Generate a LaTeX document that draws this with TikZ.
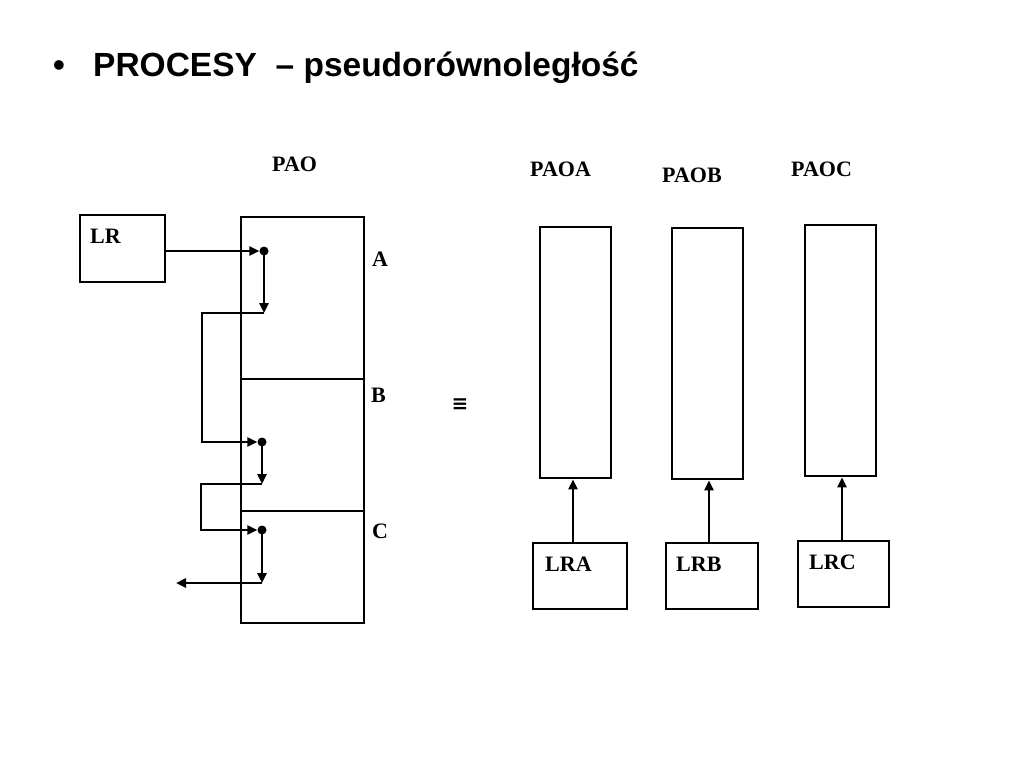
\documentclass[tikz,border=0pt]{standalone}
\usepackage{fontspec}
\setmainfont{Liberation Serif}
\newfontfamily\titlefont{Liberation Sans}
\newfontfamily\eqsymfont{DejaVu Sans}
\usetikzlibrary{arrows.meta}
\tikzset{
  box/.style={draw, line width=2.8pt, inner sep=0pt},
  lbl/.style={inner sep=0pt, anchor=base west, font=\fontsize{22}{26}\selectfont\bfseries},
  arr/.style={line width=2.8pt, -{Triangle[length=10pt,width=9pt]}},
  ln/.style={line width=2.8pt},
  dotn/.style={circle, fill=black, inner sep=0pt, minimum size=9pt}
}
\begin{document}
\begin{tikzpicture}[x=1pt,y=-1pt]
\useasboundingbox (0,0) rectangle (1024,768);
% title
\node[inner sep=0pt, anchor=base west, font=\titlefont\fontsize{33.5}{40}\selectfont\bfseries] (bul) at (53,77) {•};
\node[inner sep=0pt, anchor=base west, font=\titlefont\fontsize{33.5}{40}\selectfont\bfseries] (title) at (93,77) {PROCESY\ \ – pseudorównoległość};
% left part
\node[box, minimum width=85pt, minimum height=67pt] (lr) at (122.5,248.5) {};
\node[lbl] (lrt) at (90,243) {LR};
\node[box, minimum width=123pt, minimum height=406pt] (pao) at (302.5,420) {};
\draw[ln] (pao.west |- 0,379) coordinate (ab1) -- (pao.east |- 0,379) coordinate (ab2);
\draw[ln] (pao.west |- 0,511) coordinate (bc1) -- (pao.east |- 0,511) coordinate (bc2);
\node[lbl] (paot) at (272,171) {PAO};
\node[lbl] (at) at (372,266) {A};
\node[lbl] (bt) at (371,402) {B};
\node[lbl] (ct) at (372,538) {C};
\node[dotn] (d1) at (264,251) {};
\node[dotn] (d2) at (262,442) {};
\node[dotn] (d3) at (262,530) {};
\coordinate (e1) at (264,313);
\coordinate (l1) at (202,313);
\coordinate (e2) at (262,484);
\coordinate (l2) at (201,484);
\coordinate (e3) at (262,583);
\coordinate (out) at (176,583);
\draw[arr] (lr.east |- d1) -- (d1.west);
\draw[arr] (d1.center) -- (e1);
\draw[arr] (e1) -- (l1) |- (d2.west);
\draw[arr] (d2.center) -- (e2);
\draw[arr] (e2) -- (l2) |- (d3.west);
\draw[arr] (d3.center) -- (e3);
\draw[arr] (e3) -- (out);
% equivalence
\node[inner sep=0pt, font=\eqsymfont\bfseries\fontsize{20}{24}\selectfont] (eq) at (460,405) {≡};
% right part
\node[box, minimum width=71pt, minimum height=251pt] (paoa) at (575.5,352.5) {};
\node[box, minimum width=71pt, minimum height=251pt] (paob) at (707.5,353.5) {};
\node[box, minimum width=71pt, minimum height=251pt] (paoc) at (840.5,350.5) {};
\node[lbl] (paoat) at (530,176) {PAOA};
\node[lbl] (paobt) at (662,182) {PAOB};
\node[lbl] (paoct) at (791,176) {PAOC};
\node[box, minimum width=94pt, minimum height=66pt] (lra) at (580,576) {};
\node[box, minimum width=92pt, minimum height=66pt] (lrb) at (712,576) {};
\node[box, minimum width=91pt, minimum height=66pt] (lrc) at (843.5,574) {};
\node[lbl] (lrat) at (545,571) {LRA};
\node[lbl] (lrbt) at (676,571) {LRB};
\node[lbl] (lrct) at (809,569) {LRC};
\draw[arr] (lra.north -| 573,0) -- (paoa.south -| 573,0);
\draw[arr] (lrb.north -| 709,0) -- (paob.south -| 709,0);
\draw[arr] (lrc.north -| 842,0) -- (paoc.south -| 842,0);
\end{tikzpicture}
\end{document}
